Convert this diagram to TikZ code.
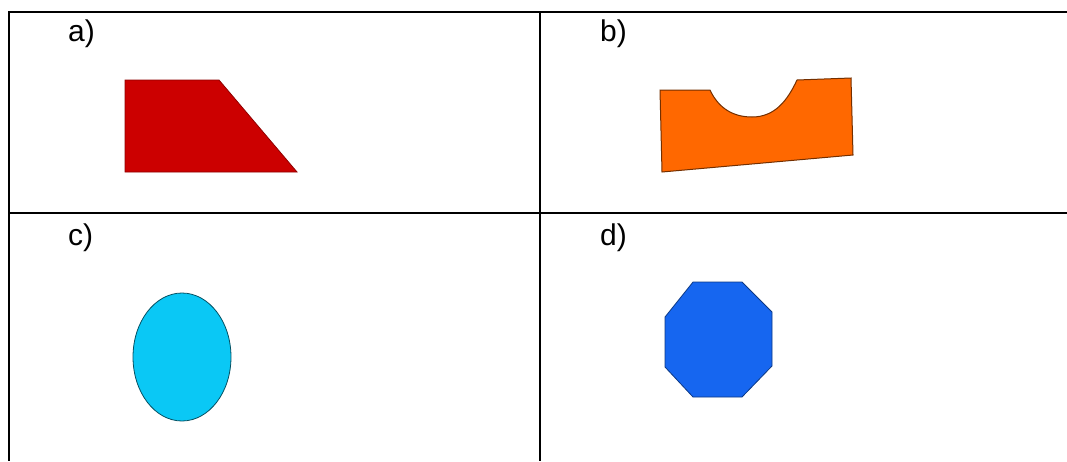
\documentclass[tikz,border=0pt]{standalone}
\usepackage{fontspec}
\setmainfont{Liberation Sans}
\usepackage{xcolor}
\definecolor{shapered}{RGB}{204,0,0}
\definecolor{shapeorange}{RGB}{255,104,0}
\definecolor{shapecyan}{RGB}{10,200,245}
\definecolor{shapeblue}{RGB}{22,102,240}

\begin{document}
\begin{tikzpicture}[x=1pt, y=-1pt, line join=miter,
    rule/.style={line width=2pt, black},
    tag/.style={anchor=base west, inner sep=0pt, font=\fontsize{30}{34}\selectfont}]
            \useasboundingbox (0,0) rectangle (1067,461);

            % table lines
            \draw[rule] (8,12) -- (1067,12);
            \draw[rule] (9,12) -- (9,461);
            \draw[rule] (9,213) -- (1067,213);
            \draw[rule] (540,12) -- (540,461);

            \node[tag] (la) at (68,41) {a)};
            \node[tag] (lb) at (600,41) {b)};
            \node[tag] (lc) at (68,245) {c)};
            \node[tag] (ld) at (600,245) {d)};

            % a) trapezoid
            \draw[fill=shapered, draw=shapered!70!black, line width=0.8pt] (125,80) -- (219,80) -- (297,172) -- (125,172) -- cycle;

            % b) notched block
            \draw[fill=shapeorange, draw=shapeorange!45!black, line width=1pt] (660,90) -- (710,90) to[out=-65,in=180] (752,117) to[out=0,in=-115] (797,80) -- (851,78) -- (853,155) -- (662,172) -- cycle;

            % c) ellipse
            \draw[fill=shapecyan, draw=shapecyan!40!black, line width=0.8pt] (182,357) ellipse (49 and 64);

            % d) octagon
            \draw[fill=shapeblue, draw=shapeblue!55!black, line width=0.8pt] (693,282) -- (742,282) -- (772,312) -- (772,366) -- (742,397) -- (693,397) -- (665,367) -- (665,317) -- cycle;
        \end{tikzpicture}
\end{document}
